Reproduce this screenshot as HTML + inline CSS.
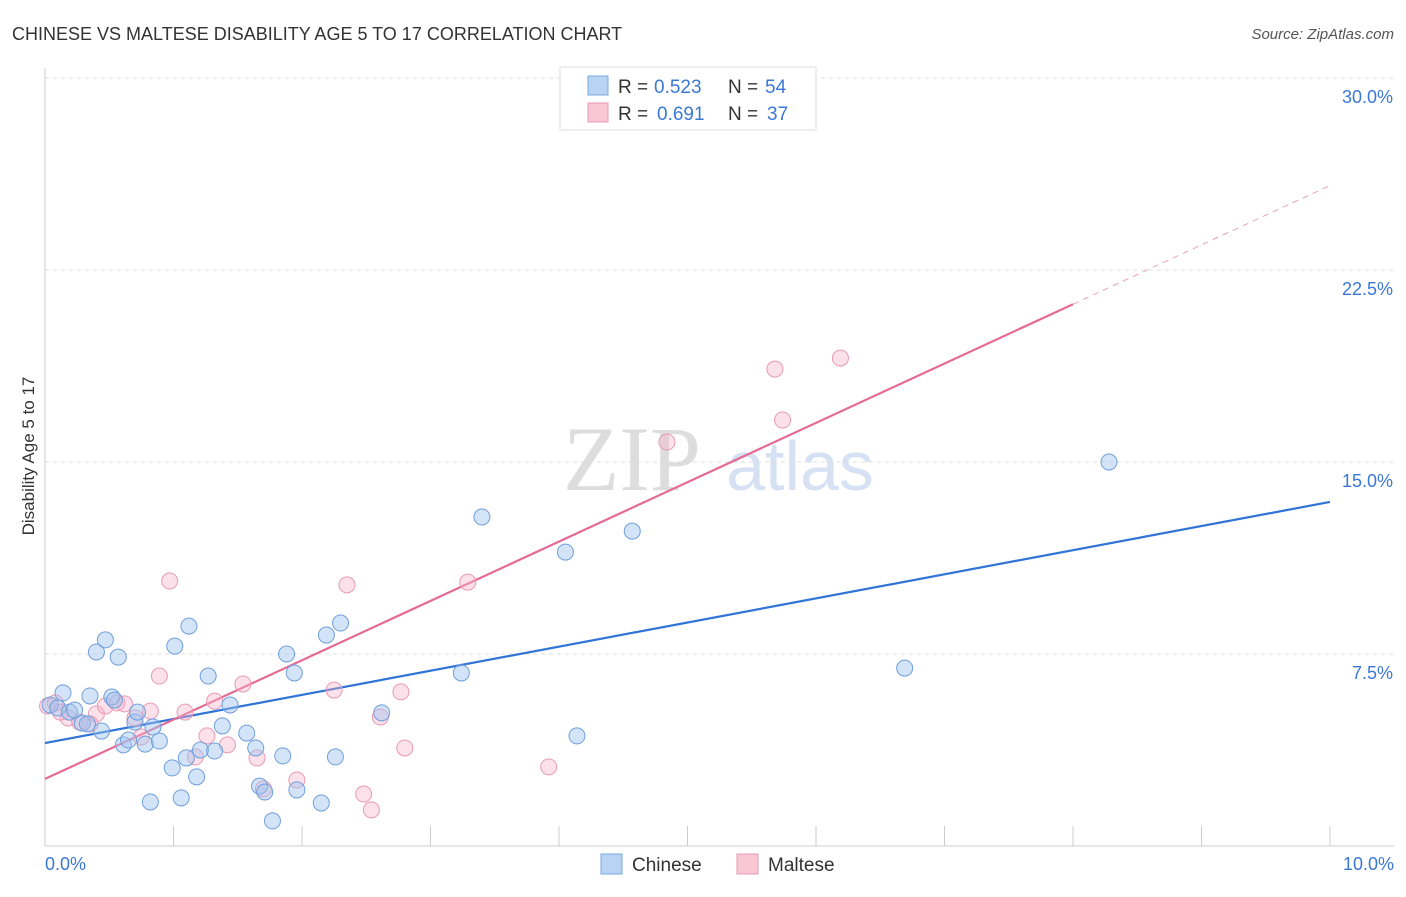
<!DOCTYPE html>
<html><head><meta charset="utf-8"><style>
body{margin:0;background:#fff;font-family:"Liberation Sans",sans-serif;}
</style></head><body>
<svg id="c" width="1406" height="892" xmlns="http://www.w3.org/2000/svg" font-family="Liberation Sans, sans-serif">
<text x="12" y="40" font-size="18" fill="#333">CHINESE VS MALTESE DISABILITY AGE 5 TO 17 CORRELATION CHART</text>
<text x="1394" y="39" font-size="15" fill="#555" font-style="italic" text-anchor="end">Source: ZipAtlas.com</text>
<text x="34" y="456" font-size="17" fill="#333" text-anchor="middle" transform="rotate(-90 34 456)">Disability Age 5 to 17</text>
<g>
<text x="632" y="490" font-size="92" fill="#ddd" text-anchor="middle" font-family="Liberation Serif, serif">ZIP</text>
<text x="800" y="490" font-size="70" fill="#d6e2f3" text-anchor="middle">atlas</text>
</g>
<g id="grid"></g><g id="axes"></g><g id="lines"></g><g id="pts"></g>
<g>
<rect x="560" y="67" width="256" height="63" fill="#fff" stroke="#ddd"/>
<rect x="588" y="76" width="20" height="19" fill="#b9d3f5" stroke="#7aa8e0"/>
<g font-size="19">
<text x="618" y="93" fill="#333">R =</text><text x="654" y="93" fill="#3b78d6">0.523</text>
<text x="728" y="93" fill="#333">N =</text><text x="765" y="93" fill="#3b78d6">54</text></g>
<rect x="588" y="103" width="20" height="19" fill="#f9c6d6" stroke="#e89ab5"/>
<g font-size="19">
<text x="618" y="120" fill="#333">R =</text><text x="657" y="120" fill="#3b78d6">0.691</text>
<text x="728" y="120" fill="#333">N =</text><text x="767" y="120" fill="#3b78d6">37</text></g>
</g>
<g>
<rect x="601" y="854" width="21" height="20" fill="#b9d3f5" stroke="#7aa8e0"/>
<text x="632" y="871" font-size="19" fill="#333">Chinese</text>
<rect x="737" y="854" width="21" height="20" fill="#f9c6d6" stroke="#e89ab5"/>
<text x="768" y="871" font-size="19" fill="#333">Maltese</text>
</g>
</svg>
<script>
const yTicks=[7.5,15,22.5,30];
const yTickLabels=["7.5%","15.0%","22.5%","30.0%"];
const xTickLabels=["0.0%","10.0%"];
const chineseX=[.04,.14,.10,.19,.23,.29,.33,.35,.40,.44,.47,.52,.57,.61,.65,.70,.72,.78,.82,.84,.89,.99,1.01,1.06,1.10,1.12,1.18,1.21,1.27,1.32,1.38,1.44,1.57,1.64,1.67,1.71,1.77,1.85,1.88,1.94,1.96,2.15,2.19,2.26,2.30,2.62,3.24,3.40,4.05,4.14,4.57,6.69,8.28,.54];
const chineseY=[5.51,5.98,5.39,5.23,5.31,4.80,4.77,5.86,7.58,4.49,8.05,5.82,7.38,3.95,4.14,4.84,5.23,3.98,1.72,4.65,4.10,3.05,7.81,1.88,3.44,8.59,2.70,3.75,6.64,3.71,4.69,5.51,4.41,3.83,2.34,2.11,0.98,3.52,7.50,6.76,2.19,1.68,8.24,3.48,8.71,5.20,6.76,12.85,11.48,4.30,12.30,6.95,15.0,5.70];
const malteseX=[.02,.08,.18,.27,.35,.40,.47,.56,.62,.70,.75,.82,.89,.97,1.09,1.17,1.26,1.32,1.42,1.54,1.65,1.70,1.96,2.25,2.35,2.48,2.54,2.61,2.77,2.80,3.29,3.92,4.84,5.68,5.74,6.19,.12];
const malteseY=[5.47,5.59,5.00,4.84,4.77,5.16,5.47,5.59,5.55,5.00,4.26,5.27,6.64,10.35,5.23,3.48,4.30,5.66,3.95,6.33,3.44,2.23,2.58,6.09,10.2,2.03,1.41,5.04,6.02,3.83,10.31,3.09,15.78,18.63,16.64,19.06,5.23];
const chineseTrend=[4.02,13.44];
const malteseTrend=[2.62,25.8];
const malteseSolidEnd=8;

const X=v=>45+v*128.5, Y=v=>846-v*25.6;
const NS="http://www.w3.org/2000/svg";
function mk(p,t,a){const e=document.createElementNS(NS,t);for(const k in a)e.setAttribute(k,a[k]);p.appendChild(e);return e;}
const grid=document.getElementById('grid'),axes=document.getElementById('axes'),lines=document.getElementById('lines'),pts=document.getElementById('pts');
yTicks.forEach((t,i)=>{
 const l=mk(grid,'line',{x1:45,x2:1394,y1:Y(t),y2:Y(t),stroke:'#ddd','stroke-dasharray':'4,4'});
 
 
 const tx=mk(axes,'text',{x:1393,y:Y(t)+25,'font-size':18,fill:'#3b78d6','text-anchor':'end'});
 tx.textContent=yTickLabels[i];
 
 
});
const ya=mk(axes,'line',{x1:45,x2:45,y1:68,y2:846,stroke:'#ccc'});


const xa=mk(axes,'line',{x1:45,x2:1394,y1:846,y2:846,stroke:'#ccc'});


for(let i=0;i<=10;i++){
 const tk=mk(axes,'line',{x1:X(i),x2:X(i),y1:826,y2:846,stroke:'#ccc'});
 
 
}
[[0,45,'start'],[10,1394,'end']].forEach((d,i)=>{
 const tx=mk(axes,'text',{x:d[1],y:870,'font-size':18,fill:'#3b78d6','text-anchor':d[2]});
 tx.textContent=xTickLabels[i];
 
 
});
function pt(xs,ys,fill,stroke,name){
 xs.forEach((x,i)=>{
  const c=mk(pts,'circle',{cx:X(x),cy:Y(ys[i]),r:8,fill:fill,stroke:stroke,'stroke-width':1});
  
  
 });
}
pt(malteseX,malteseY,'rgba(247,178,202,0.4)','#e89ab5','maltese-point');
pt(chineseX,chineseY,'rgba(160,195,240,0.45)','#6f9fdc','chinese-point');
const bl=mk(lines,'line',{x1:X(0),y1:Y(chineseTrend[0]),x2:X(10),y2:Y(chineseTrend[1]),stroke:'#2f74d6','stroke-width':2.2});


const mY=v=>malteseTrend[0]+(malteseTrend[1]-malteseTrend[0])*v/10;
const pl=mk(lines,'line',{x1:X(0),y1:Y(mY(0)),x2:X(malteseSolidEnd),y2:Y(mY(malteseSolidEnd)),stroke:'#e56b95','stroke-width':2.2});


const pd=mk(lines,'line',{x1:X(malteseSolidEnd),y1:Y(mY(malteseSolidEnd)),x2:X(10),y2:Y(mY(10)),stroke:'#eea0bb','stroke-width':1,'stroke-dasharray':'6,5'});


</script>
</body></html>
